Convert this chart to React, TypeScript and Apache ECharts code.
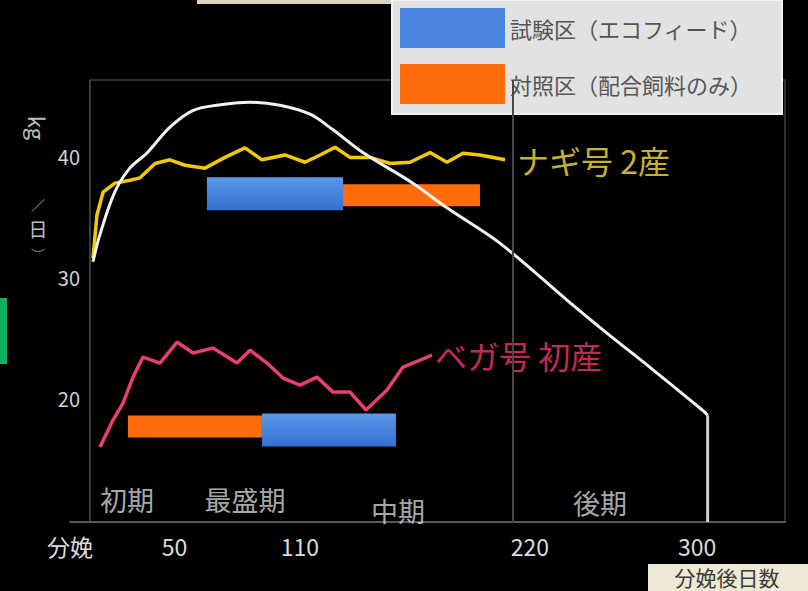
import React, { useEffect, useRef } from 'react';
import * as echarts from 'echarts';

// ---- data (days after calving, milk yield kg/day) ----
const xTickValues = [0, 50, 110, 220, 300];
const xTickNames = ['分娩', '50', '110', '220', '300'];
const yTickValues = [20, 30, 40];

const nagiName = 'ナギ号 2産';
const nagiDays = [11.0, 12.9, 15.8, 21.5, 28.7, 33.5, 40.7, 47.8, 55.0, 64.6, 74.1, 83.7, 91.8, 102.8, 112.4, 119.6, 126.8, 133.9, 143.5, 153.1, 162.6, 172.2, 180.3, 188.0, 196.1, 208.1];
const nagiYield = [31.57, 35.14, 37.02, 37.77, 38.01, 38.21, 39.4, 39.7, 39.25, 39.01, 39.9, 40.69, 39.7, 40.1, 39.5, 40.1, 40.74, 39.9, 39.9, 39.4, 39.5, 40.3, 39.5, 40.25, 40.1, 39.7];

const vegaName = 'ベガ号 初産';
const vegaDays = [14.35, 20.57, 25.35, 30.13, 34.92, 43.05, 51.18, 58.83, 68.4, 79.88, 86.1, 94.23, 101.88, 110.02, 118.15, 125.8, 133.93, 141.59, 151.63, 159.28, 167.42, 173.16];
const vegaYield = [15.95, 18.18, 19.58, 21.73, 23.39, 22.89, 24.63, 23.72, 24.13, 22.89, 23.96, 22.89, 21.65, 21.07, 21.73, 20.49, 20.49, 19.01, 20.66, 22.56, 23.14, 23.55];

const curveDays = [11, 14.2, 21.4, 28.6, 36.7, 47.7, 58.7, 70.2, 86, 100.4, 114.8, 125.8, 140.1, 164, 180.3, 205.6, 237.7, 256.8, 277.4, 302.7, 305];
const curveYield = [31.27, 33.45, 37.02, 39.01, 40.24, 42.38, 43.77, 44.21, 44.46, 44.21, 43.47, 42.18, 40.3, 37.77, 35.73, 32.81, 28.1, 25.37, 22.54, 18.97, 18.58];
const dropDays = [305, 305];
const dropYield = [18.58, 9.75];

const testName = '試験区（エコフィード）';
const testStart = [65.5, 91.8];
const testEnd = [130.6, 155.9];
const testLevel = [36.9, 17.36];

const ctrlName = '対照区（配合飼料のみ）';
const ctrlStart = [130.6, 27.7];
const ctrlEnd = [196.1, 91.8];
const ctrlLevel = [36.77, 17.64];

const stageNames = ['初期', '最盛期', '中期', '後期'];
const stageDays = [27.3, 83.7, 156.9, 253.5];
const stageLevel = [11.63, 11.63, 10.74, 11.4];

const dividerDays = [212];

const FONT = '"Noto Sans CJK JP", "Noto Sans", sans-serif';

function pairs(xs: number[], ys: number[]) {
  return xs.map((x, i) => [x, ys[i]]);
}

function barRender(h: number, fill: any) {
  return (params: any, api: any) => {
    const a = api.coord([api.value(0), api.value(2)]);
    const b = api.coord([api.value(1), api.value(2)]);
    return {
      type: 'rect',
      shape: { x: a[0], y: a[1] - h / 2, width: b[0] - a[0], height: h },
      style: { fill },
    };
  };
}

export default function App() {
  const ref = useRef<HTMLDivElement>(null);
  useEffect(() => {
    const chart = echarts.init(ref.current!, null, { renderer: 'svg' });
    const blueFill = new echarts.graphic.LinearGradient(0, 0, 0, 1, [
      { offset: 0, color: '#5a98ea' },
      { offset: 1, color: '#3570d2' },
    ]);
    const orangeFill = '#ff6c08';
    const option: any = {
      animation: false,
      backgroundColor: '#000',
      grid: { left: 70, right: 23, top: 80, bottom: 69, show: false },
      legend: {
        orient: 'vertical',
        left: 392,
        top: 0,
        backgroundColor: '#e2e2e2',
        borderColor: '#f2f2f2',
        borderWidth: 2,
        padding: [8, 30, 10, 8],
        itemWidth: 105,
        itemHeight: 40,
        itemGap: 16,
        selectedMode: false,
        textStyle: { color: '#555', fontSize: 22, fontFamily: FONT },
        data: [
          { name: testName, icon: 'rect' },
          { name: ctrlName, icon: 'rect' },
        ],
      },
      xAxis: {
        type: 'value',
        min: 0,
        max: 342,
        axisLine: { show: true, onZero: false, lineStyle: { color: '#5a5a5a', width: 2 } },
        axisTick: { show: false },
        splitLine: { show: false },
        axisLabel: {
          customValues: xTickValues,
          formatter: (v: number) => xTickNames[xTickValues.indexOf(v)] ?? '',
          color: '#dcdcdc',
          fontSize: 23,
          margin: 12,
          fontFamily: FONT,
        },
      },
      yAxis: [
        {
          type: 'value',
          min: 9.75,
          max: 46.3,
          offset: -20,
          axisLine: { show: true, onZero: false, lineStyle: { color: '#3a3a42', width: 2 } },
          axisTick: { show: false },
          splitLine: { show: false },
          axisLabel: {
            customValues: yTickValues,
            color: '#d0d0d0',
            fontSize: 20,
            margin: 10,
            fontFamily: FONT,
          },
        },
        {
          type: 'value',
          position: 'right',
          min: 9.75,
          max: 46.3,
          axisLine: { show: true, onZero: false, lineStyle: { color: '#2e2e2e', width: 2 } },
          axisTick: { show: false },
          axisLabel: { show: false },
          splitLine: { show: false },
        },
      ],
      series: [
        {
          name: testName,
          type: 'custom',
          itemStyle: { color: '#4a86e0' },
          renderItem: barRender(33, blueFill),
          encode: { x: [0, 1], y: 2 },
          data: testStart.map((s, i) => [s, testEnd[i], testLevel[i]]),
          z: 2,
        },
        {
          name: ctrlName,
          type: 'custom',
          itemStyle: { color: orangeFill },
          renderItem: barRender(22, orangeFill),
          encode: { x: [0, 1], y: 2 },
          data: ctrlStart.map((s, i) => [s, ctrlEnd[i], ctrlLevel[i]]),
          z: 2,
        },
        {
          name: 'stages',
          type: 'scatter',
          symbolSize: 1,
          itemStyle: { color: 'rgba(0,0,0,0)' },
          silent: true,
          label: {
            show: true,
            position: 'inside',
            formatter: (p: any) => stageNames[p.dataIndex],
            color: '#d6d6d6',
            fontSize: 27,
            fontFamily: FONT,
          },
          data: pairs(stageDays, stageLevel),
        },
        {
          name: nagiName,
          type: 'line',
          showSymbol: false,
          symbol: 'none',
          lineStyle: { color: '#f4c800', width: 3.5 },
          itemStyle: { color: '#f4c800' },
          endLabel: {
            show: true,
            formatter: nagiName,
            distance: 12,
            color: '#c8b030',
            fontSize: 32,
            fontFamily: FONT,
          },
          data: pairs(nagiDays, nagiYield),
          z: 3,
        },
        {
          name: vegaName,
          type: 'line',
          showSymbol: false,
          symbol: 'none',
          lineStyle: { color: '#ea3f6c', width: 3.5 },
          itemStyle: { color: '#ea3f6c' },
          endLabel: {
            show: true,
            formatter: vegaName,
            distance: 3,
            color: '#c42a4e',
            fontSize: 32,
            fontFamily: FONT,
          },
          data: pairs(vegaDays, vegaYield),
          z: 3,
        },
        {
          name: 'curve',
          type: 'line',
          smooth: 0.35,
          showSymbol: false,
          symbol: 'none',
          lineStyle: { color: '#f2f2f2', width: 3 },
          data: pairs(curveDays, curveYield),
          z: 4,
          markLine: {
            silent: true,
            symbol: 'none',
            label: { show: false },
            lineStyle: { color: '#474747', width: 2, type: 'solid' },
            data: dividerDays.map((d) => ({ xAxis: d })),
          },
        },
        {
          name: 'drop',
          type: 'line',
          showSymbol: false,
          symbol: 'none',
          lineStyle: { color: '#cfcfcf', width: 3 },
          data: pairs(dropDays, dropYield),
          z: 4,
        },
      ],
      graphic: [
        { type: 'line', shape: { x1: 90, y1: 80, x2: 785, y2: 80 }, style: { stroke: '#2e2e2e', lineWidth: 2 } },
        { type: 'rect', shape: { x: 0, y: 298, width: 7, height: 66 }, style: { fill: '#12b060' } },
        { type: 'rect', shape: { x: 197, y: 0, width: 195, height: 4 }, style: { fill: '#d8d4c0' } },
        {
          type: 'text',
          x: 38,
          y: 128,
          rotation: -Math.PI / 2,
          style: { text: 'kg', fill: '#bdbdbd', font: `22px ${FONT}`, align: 'center', verticalAlign: 'middle' },
        },
        {
          type: 'text',
          x: 38,
          y: 204,
          style: { text: '／', fill: '#a0a0a0', font: `14px ${FONT}`, align: 'center', verticalAlign: 'middle' },
        },
        {
          type: 'text',
          x: 38,
          y: 228,
          style: { text: '日', fill: '#bdbdbd', font: `19px ${FONT}`, align: 'center', verticalAlign: 'middle' },
        },
        {
          type: 'text',
          x: 38,
          y: 254,
          style: { text: '︶', fill: '#7a7a7a', font: `14px ${FONT}`, align: 'center', verticalAlign: 'middle' },
        },
        {
          type: 'group',
          children: [
            { type: 'rect', shape: { x: 648, y: 564, width: 160, height: 27 }, style: { fill: '#eee9d4' } },
            {
              type: 'text',
              x: 727,
              y: 577,
              style: { text: '分娩後日数', fill: '#3a3a3a', font: `21px ${FONT}`, align: 'center', verticalAlign: 'middle' },
            },
          ],
        },
      ],
    };
    chart.setOption(option);
    return () => chart.dispose();
  }, []);
  return (
    <div
      ref={ref}
      style={{ position: 'fixed', left: 0, top: 0, width: 808, height: 591, background: '#000' }}
    />
  );
}
